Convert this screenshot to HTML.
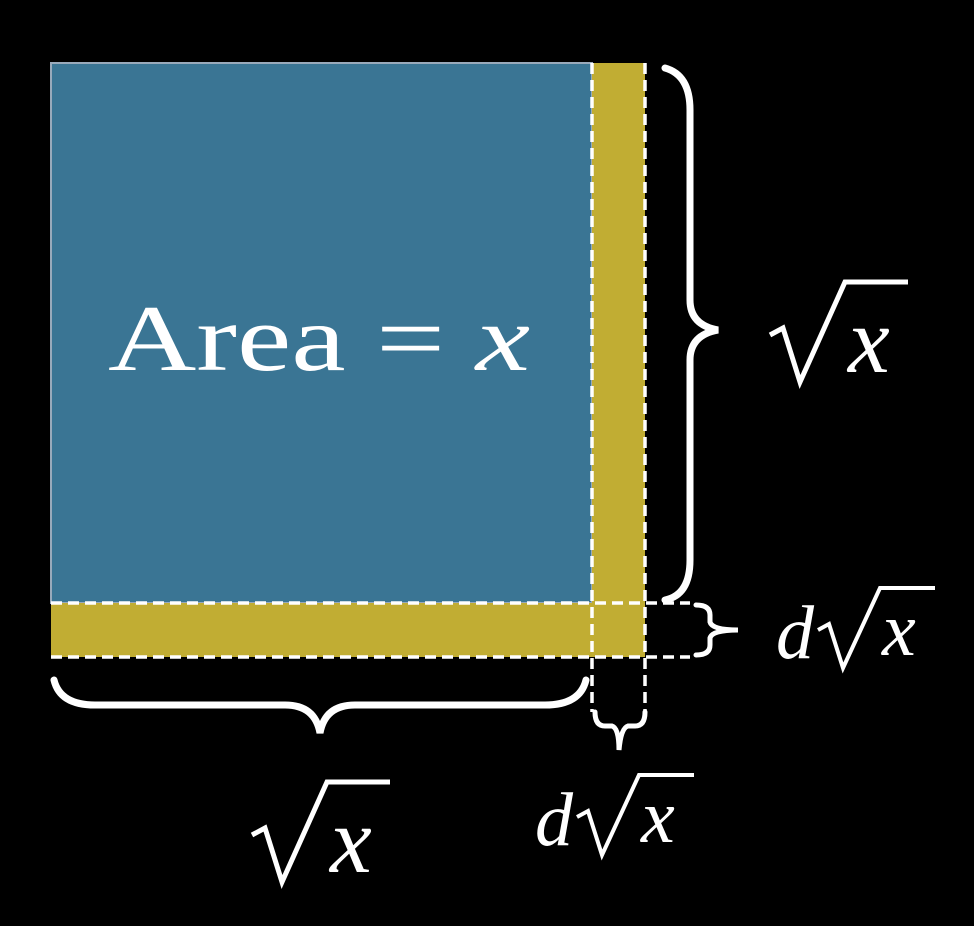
<!DOCTYPE html>
<html><head><meta charset="utf-8"><style>
html,body{margin:0;padding:0;background:#000;}
svg{display:block}
text{font-family:"Liberation Serif",serif;fill:#fff}
</style></head><body>
<svg width="974" height="926" viewBox="0 0 974 926">
<rect x="0" y="0" width="974" height="926" fill="#000"/>
<rect x="51" y="63" width="541" height="540" fill="#3a7594" stroke="#9ab" stroke-width="2"/>
<rect x="592" y="63" width="53" height="594" fill="#c1ad33"/>
<rect x="51" y="603" width="594" height="54" fill="#c1ad33"/>
<g stroke="#fff" stroke-width="3.5" stroke-dasharray="11,6" fill="none">
<line x1="592" y1="63" x2="592" y2="712"/>
<line x1="645" y1="63" x2="645" y2="712"/>
<line x1="51" y1="603" x2="690" y2="603"/>
<line x1="51" y1="657" x2="690" y2="657"/>
</g>
<g stroke="#fff" stroke-width="7" fill="none" stroke-linecap="round">
<path d="M665,68 Q690,75 690,110 L690,300 Q690,325 718,330 Q690,335 690,360 L690,560 Q690,595 665,600"/>
<path d="M54,680 Q60,705 95,705 L285,705 Q315,705 320,733 Q325,705 355,705 L545,705 Q580,705 586,680"/>
<path stroke-width="5" d="M696,605 Q710,605 710,615 L710,622 Q712,630 738,630 Q712,630 710,638 L710,645 Q710,655 696,655"/>
<path stroke-width="5" d="M595,712 Q595,726 605,726 L612,726 Q619,728 619,750 Q621,728 628,726 L635,726 Q645,726 645,712"/>
</g>
<text x="108" y="370" font-size="94" textLength="422" lengthAdjust="spacingAndGlyphs">Area = <tspan font-style="italic">x</tspan></text>
<g>
<path d="M770,335 L783,328 L800,382 L845,282 L908,282" stroke="#fff" stroke-width="5" fill="none"/>
<text x="848" y="372" font-size="94" font-style="italic">x</text>
</g>
<g>
<text x="776" y="658" font-size="76" font-style="italic">d</text>
<path d="M818,630 L829,624 L843,668 L880,588 L935,588" stroke="#fff" stroke-width="4" fill="none"/>
<text x="882" y="655" font-size="76" font-style="italic">x</text>
</g>
<g>
<path d="M252,835 L265,828 L282,882 L327,782 L390,782" stroke="#fff" stroke-width="5" fill="none"/>
<text x="330" y="872" font-size="94" font-style="italic">x</text>
</g>
<g>
<text x="535" y="845" font-size="76" font-style="italic">d</text>
<path d="M577,817 L588,811 L602,855 L639,775 L694,775" stroke="#fff" stroke-width="4" fill="none"/>
<text x="641" y="842" font-size="76" font-style="italic">x</text>
</g>
</svg>
</body></html>
